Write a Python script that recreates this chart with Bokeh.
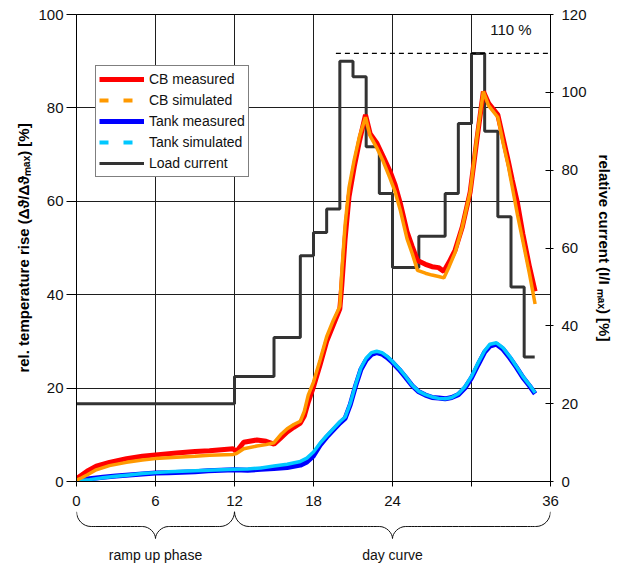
from bokeh.plotting import figure
from bokeh.models import Range1d, LinearAxis, FixedTicker, Legend, LegendItem, Label
from bokeh.layouts import column
from bokeh.embed import file_html
from bokeh.resources import INLINE
from bokeh.core.properties import value

FONT = "Liberation Sans"

# ---------------- data ----------------
# load current steps (right axis, % of I_max); step start times in hours
load_t = [0, 12, 15, 17, 18, 19, 20, 21, 22, 23, 24, 26, 28, 29, 30, 31, 32, 33, 34]
load_pct = [20, 27, 37, 58, 64, 70, 108, 104, 86, 74, 55, 63, 74, 92, 110, 90, 68, 50, 32]
load_end_t = 34.8

limit_pct = 110
limit_t = [19.7, 36]

# circuit breaker (CB) temperature rise, % of max
cb_t = [0, 0.4, 0.8, 1.5, 2.5, 3.8, 5, 6, 7.6, 9, 10.1, 11.9, 12.15, 12.7, 13.7, 14.4, 15, 15.5, 16, 16.5,
        17, 17.3, 17.6, 18, 18.5, 19, 19.5, 20, 20.15, 20.4, 20.7, 21.1, 21.5, 21.95, 22.3, 22.8, 23.3, 23.8, 24.2, 24.6,
        25.1, 25.5, 25.9, 26.5, 27, 27.5, 27.9, 28.3, 28.75, 29.3, 29.9, 30.4, 30.9, 31.3, 32.0, 32.4, 32.8, 33.1, 33.5, 33.9,
        34.4, 34.83]
cb_measured = [0.6, 1.4, 2.2, 3.3, 4.1, 4.9, 5.4, 5.7, 6.1, 6.4, 6.6, 7.0, 6.4, 8.4, 8.9, 8.6, 8.0, 9.3, 10.6, 11.6,
               12.5, 14.0, 17.0, 20.3, 25.0, 30.0, 33.5, 37.0, 42.0, 52.0, 61.0, 67.5, 73.0, 78.5, 74.5, 72.5, 69.5, 66.5, 63.5, 59.5,
               53.5, 50.3, 47.3, 46.5, 46.0, 45.8, 45.0, 47.0, 49.5, 54.5, 62.0, 73.0, 83.5, 81.0, 78.5, 73.5, 68.5, 64.5, 59.5, 53.0,
               46.0, 40.7]
cb_simulated = [0.3, 0.8, 1.4, 2.5, 3.4, 4.1, 4.6, 4.9, 5.2, 5.4, 5.6, 5.8, 6.0, 7.0, 7.6, 7.9, 8.3, 10.0, 11.3, 12.2,
                12.9, 15.0, 18.5, 21.3, 26.0, 31.0, 34.5, 37.5, 45.0, 55.0, 63.0, 69.0, 74.0, 78.0, 74.0, 71.5, 68.5, 65.0, 62.0, 58.0,
                52.0, 48.8, 45.2, 44.6, 44.2, 43.9, 43.6, 46.0, 49.0, 54.5, 62.0, 73.5, 83.5, 80.5, 78.0, 72.5, 67.5, 63.0, 57.0, 51.5,
                44.5, 38.0]

# tank temperature rise, % of max
tank_t = [0, 1, 2, 3, 4, 5, 6, 7, 8, 9, 10, 11, 12, 13, 14, 15, 16, 17, 17.5, 18, 18.5, 19, 19.5, 20,
          20.4, 20.8, 21.2, 21.6, 22, 22.4, 22.8, 23.2, 23.6, 24, 24.5, 25, 25.5, 26, 26.5, 27, 27.5, 28, 28.5, 29,
          29.5, 30, 30.5, 31, 31.4, 31.9, 32.4, 32.9, 33.4, 33.9, 34.4, 34.83]
tank_measured = [0.3, 0.6, 0.9, 1.2, 1.4, 1.6, 1.8, 1.9, 2.0, 2.1, 2.3, 2.4, 2.5, 2.4, 2.6, 2.8, 3.0, 3.5, 4.2, 5.5, 7.8, 9.5, 11.0, 12.5,
                 13.5, 16.5, 20.5, 24.0, 26.0, 27.2, 27.6, 27.3, 26.5, 25.5, 24.0, 22.3, 20.5, 19.2, 18.5, 18.0, 17.9, 17.7, 18.0, 18.6,
                 20.0, 22.2, 25.0, 27.7, 29.0, 29.4, 28.3, 26.5, 24.5, 22.3, 20.5, 18.8]
tank_simulated = [0.1, 0.4, 0.8, 1.1, 1.4, 1.7, 1.9, 2.1, 2.2, 2.3, 2.4, 2.5, 2.6, 2.7, 2.9, 3.3, 3.7, 4.3, 5.0, 6.3, 8.2, 9.8, 11.3, 12.8,
                  13.8, 16.8, 20.8, 24.3, 26.4, 27.6, 27.9, 27.6, 26.8, 25.7, 24.2, 22.5, 20.6, 19.3, 18.6, 18.1, 17.8, 17.7, 18.0, 18.8,
                  20.3, 22.5, 25.4, 28.0, 29.4, 29.7, 28.6, 26.8, 24.7, 22.5, 20.7, 19.0]

x_ticks = [0, 6, 12, 18, 24, 30, 36]
left_ticks = [0, 20, 40, 60, 80, 100]
right_ticks = [0, 20, 40, 60, 80, 100, 120]

brace_from = [0, 12]
brace_to = [12, 36]
brace_text = ["ramp up phase", "day curve"]

NAN = float("nan")

# ---------------- main figure ----------------
p = figure(frame_width=474, frame_height=467, output_backend="svg", toolbar_location=None,
           x_range=Range1d(0, 36), y_range=Range1d(0, 100),
           min_border_left=76, min_border_right=60, min_border_top=14, min_border_bottom=30,
           background_fill_color="white", border_fill_color="white")
p.extra_y_ranges = {"current": Range1d(0, 120)}
p.outline_line_color = "black"
p.outline_line_width = 1

grid_col = "#1e1e1e"
p.xgrid.ticker = FixedTicker(ticks=x_ticks)
p.ygrid.ticker = FixedTicker(ticks=left_ticks)
p.grid.grid_line_color = grid_col
p.grid.grid_line_width = 1

# axes
xa = p.xaxis[0]
xa.ticker = FixedTicker(ticks=x_ticks)
xa.major_label_overrides = {30: ""}
ya = p.yaxis[0]
ya.ticker = FixedTicker(ticks=left_ticks)
ya.axis_label = "rel. temperature rise (Δϑ/Δϑₘₐₓ) [%]"

ra = LinearAxis(y_range_name="current", ticker=FixedTicker(ticks=right_ticks),
                axis_label="relative current (I/I ₘₐₓ) [%]")
p.add_layout(ra, "right")

for ax in [xa, ya, ra]:
    ax.axis_line_color = "black"
    ax.major_tick_line_color = "black"
    ax.minor_tick_line_color = None
    ax.major_label_text_font = FONT
    ax.major_label_text_font_size = "15px"
    ax.major_label_text_color = "#111111"
    ax.axis_label_text_font = FONT
    ax.axis_label_text_font_size = "15px"
    ax.axis_label_text_font_style = "bold"
    ax.axis_label_text_color = "black"

xa.major_tick_in = 0
xa.major_tick_out = 5
xa.major_label_standoff = 9
ya.major_tick_in = 0
ya.major_tick_out = 10
ya.major_label_standoff = 3
ya.axis_label_standoff = 3
ra.major_tick_in = 5
ra.major_tick_out = 3
ra.major_label_standoff = 8
ra.axis_label_standoff = 6

# load current steps
step_x = load_t + [load_end_t]
step_y = load_pct + [load_pct[-1]]
r_load = p.step(step_x, step_y, mode="after", y_range_name="current",
                line_color="#333333", line_width=3)

# 110 % limit
p.line(limit_t, [limit_pct, limit_pct], y_range_name="current",
       line_color="black", line_width=1.3, line_dash="5 4")
p.text(x=[33.0], y=[116.2], text=[f"{limit_pct} %"], y_range_name="current",
       text_font=value(FONT), text_font_size="15px", text_align="center",
       text_baseline="middle", text_color="#111111")

# temperature curves
r_tank_m = p.line(tank_t, tank_measured, line_color="#0000ff", line_width=5)
p.line(tank_t, tank_simulated, line_color="#00c8ff", line_width=3.5)
r_cb_m = p.line(cb_t, cb_measured, line_color="#ff0000", line_width=5)
p.line(cb_t, cb_simulated, line_color="#ff9900", line_width=3.5)

# dashed proxies for the legend (nothing drawn in the plot)
r_cb_s = p.line([NAN, NAN], [NAN, NAN], line_color="#ff9900", line_width=4, line_dash="9 15")
r_tank_s = p.line([NAN, NAN], [NAN, NAN], line_color="#00c8ff", line_width=4, line_dash="9 15")

legend = Legend(items=[
    LegendItem(label="CB measured", renderers=[r_cb_m]),
    LegendItem(label="CB simulated", renderers=[r_cb_s]),
    LegendItem(label="Tank measured", renderers=[r_tank_m]),
    LegendItem(label="Tank simulated", renderers=[r_tank_s]),
    LegendItem(label="Load current", renderers=[r_load]),
], location=(19, 304))
legend.padding = 3
legend.spacing = 1
legend.margin = 0
legend.label_height = 20
legend.glyph_height = 20
legend.glyph_width = 45
legend.label_standoff = 5
legend.label_text_font = FONT
legend.label_text_font_size = "14px"
legend.label_text_color = "#111111"
legend.border_line_color = "black"
legend.border_line_width = 1
legend.background_fill_color = "white"
legend.background_fill_alpha = 1
p.add_layout(legend)

p.add_layout(Label(x=29.7, y=-4.8, text="time [hrs]", text_font=FONT, text_font_size="15px",
                   text_font_style="bold", text_align="center", text_baseline="middle",
                   text_color="black"))

# ---------------- brace strip ----------------
p2 = figure(frame_width=474, frame_height=52, output_backend="svg", toolbar_location=None,
            x_range=p.x_range, y_range=Range1d(0, 52),
            min_border_left=76, min_border_right=60, min_border_top=0, min_border_bottom=0,
            x_axis_location=None, y_axis_location=None,
            background_fill_color="white", border_fill_color="white")
p2.outline_line_color = None
p2.grid.visible = False

top, mid, tip = 52.0, 37.0, 25.0
r_end, r_tip = 1.1, 1.0
bx0, by0, bx1, by1, bcx0, bcy0, bcx1, bcy1 = [], [], [], [], [], [], [], []


def seg(x0, y0, x1, y1, cx0, cy0, cx1, cy1):
    bx0.append(x0); by0.append(y0); bx1.append(x1); by1.append(y1)
    bcx0.append(cx0); bcy0.append(cy0); bcx1.append(cx1); bcy1.append(cy1)


centers = []
for a, b in zip(brace_from, brace_to):
    c = (a + b) / 2
    centers.append(c)
    k = 0.55
    seg(a, top, a + r_end, mid, a, top - k * (top - mid), a + (1 - k) * r_end, mid)
    seg(a + r_end, mid, c - r_tip, mid, a + r_end, mid, c - r_tip, mid)
    seg(c - r_tip, mid, c, tip, c - (1 - k) * r_tip, mid, c, mid - k * (mid - tip))
    seg(c, tip, c + r_tip, mid, c, mid - k * (mid - tip), c + (1 - k) * r_tip, mid)
    seg(c + r_tip, mid, b - r_end, mid, c + r_tip, mid, b - r_end, mid)
    seg(b - r_end, mid, b, top, b - (1 - k) * r_end, mid, b, top - k * (top - mid))

p2.bezier(x0=bx0, y0=by0, x1=bx1, y1=by1, cx0=bcx0, cy0=bcy0, cx1=bcx1, cy1=bcy1,
          line_color="#111111", line_width=1)
p2.text(x=centers, y=[9, 9], text=brace_text, text_font=value(FONT), text_font_size="14px",
        text_align="center", text_baseline="middle", text_color="#111111")

layout = column(p, p2, spacing=0)
open("out.html", "w").write(file_html(layout, INLINE))
